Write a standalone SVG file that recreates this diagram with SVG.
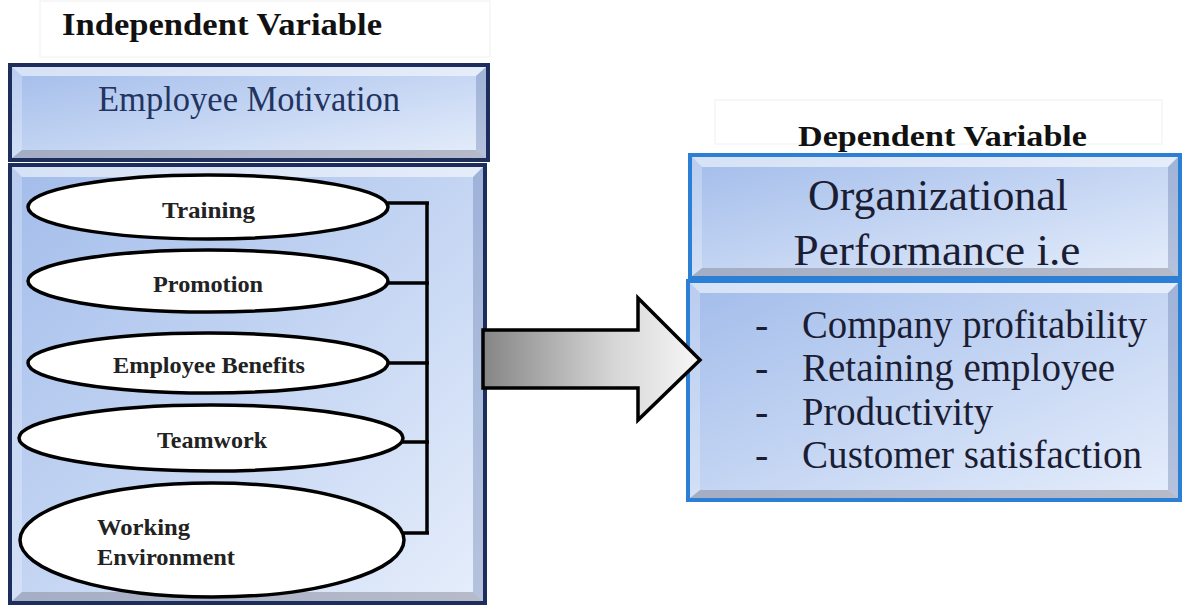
<svg xmlns="http://www.w3.org/2000/svg" width="1182" height="609" viewBox="0 0 1182 609">
<style>
.title{font-family:"Liberation Serif","Times New Roman",serif;font-weight:bold;fill:#111;}
.navy{fill:url(#boxFill);stroke:#1d2d5c;stroke-width:4;}
.blue{fill:url(#boxFill);stroke:#2b80d6;stroke-width:4;}
.bevT{fill:#ffffff;opacity:0.55;}
.bevB{fill:#7f7f8c;opacity:0.45;}
.bevR{fill:#5b73a6;opacity:0.35;}
.bevL{fill:#ffffff;opacity:0.25;}
.ell{fill:#ffffff;stroke:#000;stroke-width:3.5;}
.etxt{font-family:"Liberation Serif","Times New Roman",serif;font-weight:bold;font-size:24px;fill:#222;}
.big{font-family:"Liberation Serif","Times New Roman",serif;fill:#1b1d33;}
.conn{fill:none;stroke:#000;stroke-width:3.5;}
.hdr{fill:#ffffff;stroke:#f0f0f0;stroke-width:1;}
</style>
<defs>
<linearGradient id="boxFill" x1="0" y1="0" x2="1" y2="1">
<stop offset="0" stop-color="#a2bcea"/>
<stop offset="0.5" stop-color="#c4d5f3"/>
<stop offset="1" stop-color="#e6eefb"/>
</linearGradient>
<linearGradient id="arrowFill" x1="0" y1="0" x2="1" y2="0">
<stop offset="0" stop-color="#858585"/>
<stop offset="0.6" stop-color="#d6d6d6"/>
<stop offset="1" stop-color="#f7f7f7"/>
</linearGradient>
</defs>
<rect width="1182" height="609" fill="#ffffff"/>

<g id="independent-header">
<rect class="hdr" x="40" y="1" width="450" height="56"/>
<text class="title" x="62" y="35" font-size="31" textLength="320" lengthAdjust="spacingAndGlyphs">Independent Variable</text>
</g>

<g id="employee-motivation">
<rect class="navy" x="10" y="65" width="478" height="95"/>
<polygon class="bevT" points="12,67 486,67 476,76 22,76"/>
<polygon class="bevB" points="12,158 486,158 476,150 22,150"/>
<polygon class="bevR" points="486,67 486,158 476,150 476,76"/>
<polygon class="bevL" points="12,67 12,158 22,150 22,76"/>
<text class="big" x="249" y="111" font-size="36" text-anchor="middle" style="fill:#22345f" textLength="302" lengthAdjust="spacingAndGlyphs">Employee Motivation</text>
</g>

<g id="factors-box">
<rect class="navy" x="10" y="165" width="475" height="438"/>
<polygon class="bevT" points="12,167 483,167 473,177 22,177"/>
<polygon class="bevB" points="12,601 483,601 473,592 22,592"/>
<polygon class="bevR" points="483,167 483,601 473,592 473,177"/>
<polygon class="bevL" points="12,167 12,601 22,592 22,177"/>
</g>

<g id="connectors">
<path class="conn" d="M427,203 V534"/>
<path class="conn" d="M387,203 H429"/>
<path class="conn" d="M387,283 H429"/>
<path class="conn" d="M387,363 H429"/>
<path class="conn" d="M401,442 H429"/>
<path class="conn" d="M399,533 H429"/>
</g>

<g id="training">
<ellipse class="ell" cx="208" cy="207" rx="180" ry="32"/>
<text class="etxt" x="162" y="218" textLength="93" lengthAdjust="spacingAndGlyphs">Training</text>
</g>
<g id="promotion">
<ellipse class="ell" cx="208" cy="281" rx="180" ry="31"/>
<text class="etxt" x="153" y="292" textLength="110" lengthAdjust="spacingAndGlyphs">Promotion</text>
</g>
<g id="employee-benefits">
<ellipse class="ell" cx="208" cy="363" rx="180" ry="30"/>
<text class="etxt" x="113" y="373" textLength="192" lengthAdjust="spacingAndGlyphs">Employee Benefits</text>
</g>
<g id="teamwork">
<ellipse class="ell" cx="211" cy="438" rx="192" ry="33"/>
<text class="etxt" x="157" y="448" textLength="110" lengthAdjust="spacingAndGlyphs">Teamwork</text>
</g>
<g id="working-environment">
<ellipse class="ell" cx="212" cy="540" rx="192" ry="57"/>
<text class="etxt" x="97" y="535" textLength="93" lengthAdjust="spacingAndGlyphs">Working</text>
<text class="etxt" x="97" y="565" textLength="138" lengthAdjust="spacingAndGlyphs">Environment</text>
</g>

<g id="dependent-header">
<rect class="hdr" x="715" y="100" width="447" height="44"/>
<text class="title" x="798" y="146" font-size="29" textLength="289" lengthAdjust="spacingAndGlyphs">Dependent Variable</text>
</g>

<g id="organizational-performance">
<rect class="blue" x="690" y="155" width="490" height="123"/>
<polygon class="bevT" points="692,157 1178,157 1168,167 702,167"/>
<polygon class="bevB" points="692,276 1178,276 1168,268 702,268"/>
<polygon class="bevR" points="1178,157 1178,276 1168,268 1168,167"/>
<polygon class="bevL" points="692,157 692,276 702,268 702,167"/>
<text class="big" x="938" y="210" font-size="44" text-anchor="middle" textLength="260" lengthAdjust="spacingAndGlyphs">Organizational</text>
<text class="big" x="937" y="265" font-size="44" text-anchor="middle" textLength="287" lengthAdjust="spacingAndGlyphs">Performance i.e</text>
</g>

<g id="performance-measures">
<rect class="blue" x="688" y="281" width="492" height="219"/>
<polygon class="bevT" points="690,283 1178,283 1168,293 700,293"/>
<polygon class="bevB" points="690,498 1178,498 1168,490 700,490"/>
<polygon class="bevR" points="1178,283 1178,498 1168,490 1168,293"/>
<polygon class="bevL" points="690,283 690,498 700,490 700,293"/>
<g class="big" font-size="40">
<text x="755" y="338">-</text>
<text x="802" y="338" textLength="345" lengthAdjust="spacingAndGlyphs">Company profitability</text>
<text x="755" y="381">-</text>
<text x="802" y="381" textLength="313" lengthAdjust="spacingAndGlyphs">Retaining employee</text>
<text x="755" y="425">-</text>
<text x="802" y="425" textLength="191" lengthAdjust="spacingAndGlyphs">Productivity</text>
<text x="755" y="468">-</text>
<text x="802" y="468" textLength="340" lengthAdjust="spacingAndGlyphs">Customer satisfaction</text>
</g>
</g>

<g id="arrow">
<polygon points="483,330 638,330 638,298 700,360 638,420 638,388 483,388" fill="url(#arrowFill)" stroke="#000" stroke-width="3.5" stroke-linejoin="miter"/>
</g>
</svg>
